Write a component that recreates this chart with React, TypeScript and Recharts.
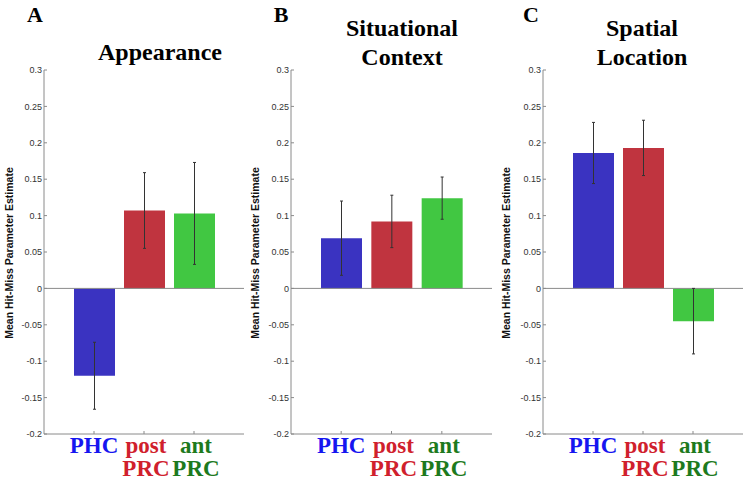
import React from "react";
import { BarChart, Bar, Cell, XAxis, YAxis, ErrorBar, ReferenceLine } from "recharts";

const CATEGORIES = ["PHC", "post PRC", "ant PRC"];
const TICK_LINES = [["PHC"], ["post", "PRC"], ["ant", "PRC"]];
const BAR_COLORS = ["#3a33c1", "#c0343f", "#41c742"];
const LABEL_COLORS = ["#1616f0", "#d0202c", "#1d7a1d"];

const APPEARANCE_MEAN = [-0.12, 0.107, 0.103];
const APPEARANCE_ERR = [0.046, 0.052, 0.07];
const CONTEXT_MEAN = [0.069, 0.092, 0.124];
const CONTEXT_ERR = [0.051, 0.036, 0.029];
const LOCATION_MEAN = [0.186, 0.193, -0.045];
const LOCATION_ERR = [0.042, 0.038, 0.045];

const Y_TICKS = [-0.2, -0.15, -0.1, -0.05, 0, 0.05, 0.1, 0.15, 0.2, 0.25, 0.3];

const AXIS = "#8a8a8a";
const SANS = "Liberation Sans, Arial, sans-serif";
const SERIF = "Liberation Serif, DejaVu Serif, serif";

function rows(means: number[], errs: number[]) {
  return CATEGORIES.map((name, i) => ({ name, value: means[i], err: errs[i] }));
}

function CategoryTick(props: any) {
  const { x, y, index } = props;
  const lines = TICK_LINES[index] || [];
  return (
    <g>
      {lines.map((t, k) => (
        <text
          key={k}
          x={x + (index > 0 ? 2 : 0)}
          y={y + 19 + k * 23}
          textAnchor="middle"
          style={{ fontFamily: SERIF, fontWeight: "bold", fontSize: 23 }}
          fill={LABEL_COLORS[index]}
        >
          {t}
        </text>
      ))}
    </g>
  );
}

type PanelProps = {
  left: number;
  yWidth: number;
  right: number;
  means: number[];
  errs: number[];
};

function Panel({ left, yWidth, right, means, errs }: PanelProps) {
  const data = rows(means, errs);
  return (
    <div style={{ position: "absolute", left, top: 0 }}>
      <BarChart
        width={250}
        height={486}
        data={data}
        margin={{ top: 70, right, bottom: 0, left: 0 }}
      >
        <XAxis
          dataKey="name"
          type="category"
          padding={{ left: 25, right: 25 }}
          axisLine={{ stroke: AXIS }}
          tickLine={{ stroke: AXIS }}
          tickSize={-3}
          tickMargin={3}
          height={52}
          interval={0}
          tick={<CategoryTick />}
        />
        <YAxis
          type="number"
          domain={[-0.2, 0.3]}
          ticks={Y_TICKS}
          allowDataOverflow
          width={yWidth}
          axisLine={{ stroke: AXIS }}
          tickLine={{ stroke: AXIS }}
          tickSize={-3}
          tickMargin={5}
          tick={{ fontSize: 9, fill: "#333", fontFamily: SANS }}
          tickFormatter={(v: number) => String(v)}
        />
        <ReferenceLine y={0} stroke={AXIS} />
        <Bar dataKey="value" barSize={41} isAnimationActive={false}>
          {data.map((d, i) => (
            <Cell key={d.name} fill={BAR_COLORS[i]} />
          ))}
          <ErrorBar dataKey="err" width={1.5} stroke="#333" strokeWidth={1} direction="y" />
        </Bar>
      </BarChart>
    </div>
  );
}

function Title({ x, y, children, size = 24 }: { x: number; y: number; children: string; size?: number }) {
  return (
    <text
      x={x}
      y={y}
      textAnchor="middle"
      style={{ fontFamily: SERIF, fontWeight: "bold", fontSize: size }}
      fill="#000"
    >
      {children}
    </text>
  );
}

function YLabel({ x }: { x: number }) {
  const cy = 253;
  return (
    <text
      x={x}
      y={cy}
      transform={`rotate(-90 ${x} ${cy})`}
      textAnchor="middle"
      style={{ fontFamily: SANS, fontWeight: "bold", fontSize: 10.5 }}
      fill="#111"
    >
      Mean Hit-Miss Parameter Estimate
    </text>
  );
}

export default function App() {
  return (
    <div style={{ position: "absolute", left: 0, top: 0, width: 750, height: 486, background: "#fff" }}>
      <Panel left={0} yWidth={44} right={6} means={APPEARANCE_MEAN} errs={APPEARANCE_ERR} />
      <Panel left={250} yWidth={41} right={8} means={CONTEXT_MEAN} errs={CONTEXT_ERR} />
      <Panel left={500} yWidth={43} right={7} means={LOCATION_MEAN} errs={LOCATION_ERR} />
      <svg
        width={750}
        height={486}
        style={{ position: "absolute", left: 0, top: 0, pointerEvents: "none" }}
      >
        <Title x={35} y={22} size={22}>A</Title>
        <Title x={281} y={22} size={22}>B</Title>
        <Title x={531} y={22} size={22}>C</Title>
        <Title x={160} y={60}>Appearance</Title>
        <Title x={402} y={36}>Situational</Title>
        <Title x={402} y={65}>Context</Title>
        <Title x={642} y={36}>Spatial</Title>
        <Title x={642} y={65}>Location</Title>
        <YLabel x={13} />
        <YLabel x={259} />
        <YLabel x={510} />
      </svg>
    </div>
  );
}
